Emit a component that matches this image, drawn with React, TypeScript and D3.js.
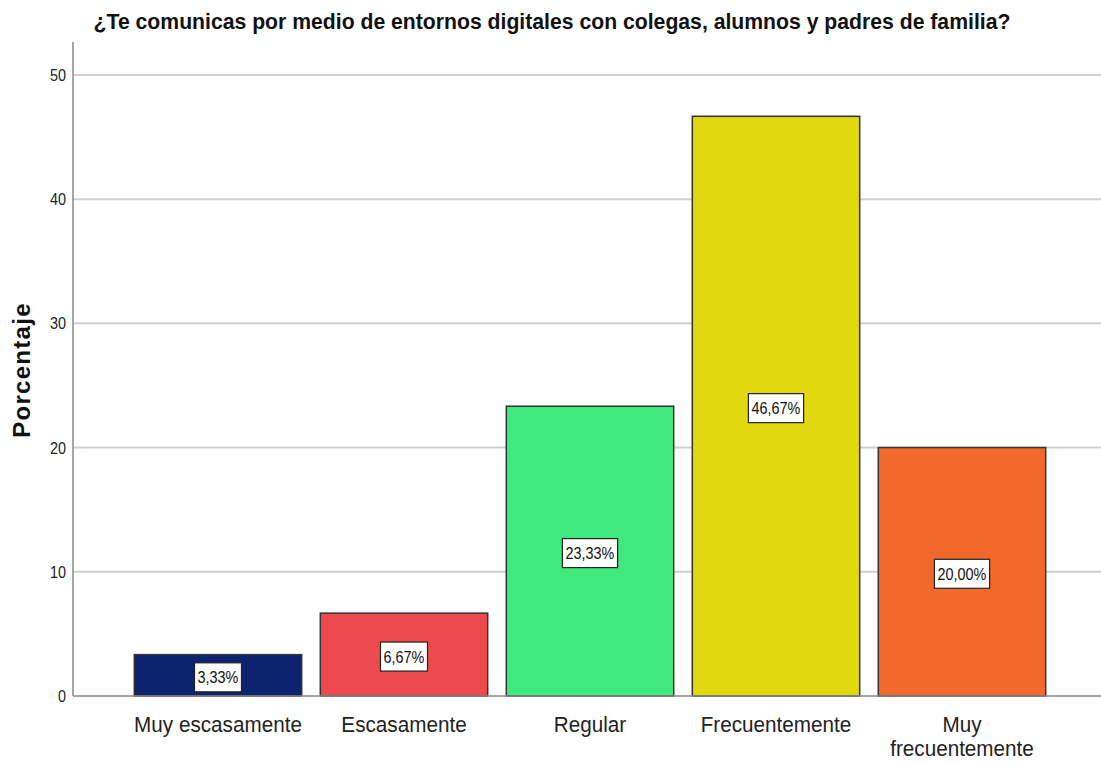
import * as d3 from "d3";

const categories = [
  "Muy escasamente",
  "Escasamente",
  "Regular",
  "Frecuentemente",
  "Muy frecuentemente",
];
const categoryLines = [
  ["Muy escasamente"],
  ["Escasamente"],
  ["Regular"],
  ["Frecuentemente"],
  ["Muy", "frecuentemente"],
];
const percentages = [3.33, 6.67, 23.33, 46.67, 20.0];
const valueLabels = ["3,33%", "6,67%", "23,33%", "46,67%", "20,00%"];
const barColors = ["#0c2470", "#ec4a4c", "#40e97c", "#e2d80f", "#f1692b"];
const yTicks = [0, 10, 20, 30, 40, 50];

const title =
  "¿Te comunicas por medio de entornos digitales con colegas, alumnos y padres de familia?";
const yTitle = "Porcentaje";

const W = 1101;
const H = 765;
const FONT = "'Liberation Sans', Arial, sans-serif";
const SQUISH = 0.9;

export default function App() {
  const left = 73;
  const right = W;
  const baseY = 696;

  const x = d3
    .scaleBand<string>()
    .domain(categories)
    .range([125, 1055])
    .paddingInner(0.1)
    .paddingOuter(0.05);

  const y = d3.scaleLinear().domain([0, 52.65]).range([baseY, 42]);

  return (
    <div style={{ position: "absolute", left: 0, top: 0 }}>
      <svg width={W} height={H} style={{ display: "block", background: "#fff" }}>
        {/* title */}
        <text
          x={552}
          y={29}
          textAnchor="middle"
          fontFamily={FONT}
          fontWeight="bold"
          fontSize={21.2}
          fill="#111"
        >
          {title}
        </text>

        {/* grid */}
        {yTicks
          .filter((t) => t > 0)
          .map((t) => (
            <line
              key={t}
              x1={left}
              x2={right}
              y1={y(t)}
              y2={y(t)}
              stroke="#cfcfcf"
              strokeWidth={2}
            />
          ))}

        {/* tick labels */}
        {yTicks.map((t) => (
          <g key={t} transform={`translate(66,${y(t) + 6}) scale(${SQUISH},1)`}>
            <text textAnchor="end" fontFamily={FONT} fontSize={16} fill="#222">
              {t}
            </text>
          </g>
        ))}

        {/* bars */}
        {percentages.map((v, i) => (
          <rect
            key={categories[i]}
            x={x(categories[i])}
            y={y(v)}
            width={x.bandwidth()}
            height={baseY - y(v)}
            fill={barColors[i]}
            stroke="#333"
            strokeWidth={1.5}
          />
        ))}

        {/* axes */}
        <line x1={left} x2={left} y1={42} y2={baseY} stroke="#888" strokeWidth={1.5} />
        <line x1={left} x2={right} y1={baseY} y2={baseY} stroke="#888" strokeWidth={1.5} />

        {/* value labels */}
        {percentages.map((v, i) => {
          const cx = (x(categories[i]) || 0) + x.bandwidth() / 2;
          const cy = (y(v) + baseY) / 2 + 2;
          const bw = valueLabels[i].length * 8.2 + 6;
          const bh = 29;
          return (
            <g key={valueLabels[i]}>
              <rect
                x={cx - bw / 2}
                y={cy - bh / 2}
                width={bw}
                height={bh}
                fill="#fff"
                stroke="#222"
                strokeWidth={1.2}
              />
              <g transform={`translate(${cx},${cy + 6}) scale(${SQUISH},1)`}>
                <text textAnchor="middle" fontFamily={FONT} fontSize={16} fill="#111">
                  {valueLabels[i]}
                </text>
              </g>
            </g>
          );
        })}

        {/* category labels */}
        {categoryLines.map((lines, i) => {
          const cx = (x(categories[i]) || 0) + x.bandwidth() / 2;
          return (
            <g key={categories[i]} transform={`translate(${cx},732) scale(0.94,1)`}>
              <text textAnchor="middle" fontFamily={FONT} fontSize={22} fill="#222">
                {lines.map((l, k) => (
                  <tspan key={k} x={0} dy={k === 0 ? 0 : 24}>
                    {l}
                  </tspan>
                ))}
              </text>
            </g>
          );
        })}

        {/* y title */}
        <text
          transform={`translate(30,370) rotate(-90)`}
          textAnchor="middle"
          fontFamily={FONT}
          fontWeight="bold"
          fontSize={24}
          letterSpacing={1.3}
          fill="#111"
        >
          {yTitle}
        </text>
      </svg>
    </div>
  );
}
